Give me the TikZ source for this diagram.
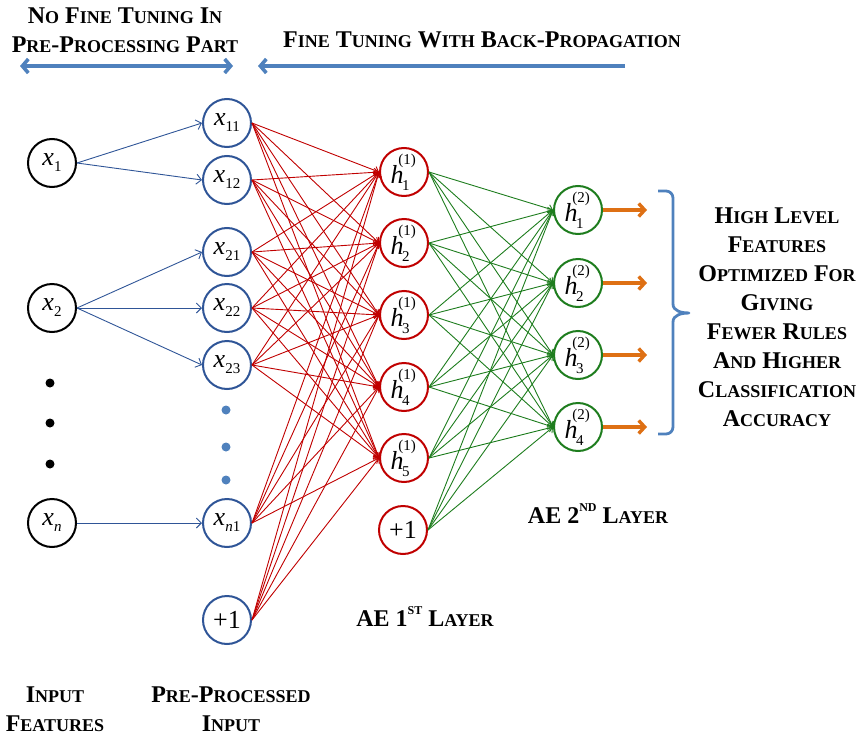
\documentclass[tikz,border=0pt]{standalone}
\usepackage{fontspec}
\setmainfont{Liberation Serif}
\newfontfamily\scf[Scale=0.75]{Liberation Serif}
\usetikzlibrary{arrows.meta}
\definecolor{blueC}{RGB}{47,85,151}
\definecolor{lblue}{RGB}{79,129,189}
\definecolor{redC}{RGB}{192,0,0}
\definecolor{greenC}{RGB}{30,125,30}
\definecolor{orangeC}{RGB}{222,112,20}
\newcommand\SC[2]{#1{\scf\bfseries #2}}
\newcommand\sbs{\fontsize{15}{15}\selectfont}
\newcommand\xs[1]{\textit{x}\raisebox{-0.5ex}{\sbs #1}}
\newcommand\hh[2]{\textit{h}\kern-0.2em\rlap{\raisebox{1.6ex}{\sbs(#1)}}\kern0.15em\raisebox{-0.6ex}{\sbs #2}\kern0.3em}
\tikzset{
  neuron/.style={circle,line width=2pt,minimum size=48pt,inner sep=0pt,font=\fontsize{26}{28}\selectfont},
  inN/.style={neuron,draw=black},
  ppN/.style={neuron,draw=blueC},
  h1N/.style={neuron,draw=redC},
  h2N/.style={neuron,draw=greenC},
  blueE/.style={draw=blueC,line width=0.9pt,-{Straight Barb[length=5pt,width=10pt]}},
  redE/.style={draw=redC,line width=0.9pt,-{Straight Barb[length=4pt,width=8pt]}},
  greenE/.style={draw=greenC,line width=0.9pt,-{Straight Barb[length=4pt,width=8pt]}},
  outA/.style={draw=orangeC,line width=3.4pt,-{Straight Barb[length=6pt,width=13pt]}},
  topA/.style={draw=lblue,line width=3.6pt},
  label/.style={align=center,font=\fontsize{24}{29}\selectfont\bfseries,inner sep=0pt},
  dotB/.style={circle,fill=black,minimum size=9pt,inner sep=0pt},
  dotL/.style={circle,fill=lblue,minimum size=9pt,inner sep=0pt},
}
\begin{document}
\begin{tikzpicture}[x=1pt,y=1pt]
\useasboundingbox (0,0) rectangle (863,-739);
% input nodes
\node[inN] (x1) at (52,-163) {\xs{1}};
\node[inN] (x2) at (52,-308) {\xs{2}};
\node[inN] (xn) at (52,-523) {\textit{x}\raisebox{-0.5ex}{\sbs\textit{n}}};
\node[dotB] (d1) at (50,-383) {};
\node[dotB] (d2) at (50,-423) {};
\node[dotB] (d3) at (50,-464) {};
% pre-processed
\node[ppN] (p1) at (227,-123) {\xs{11}};
\node[ppN] (p2) at (227,-180) {\xs{12}};
\node[ppN] (p3) at (227,-252) {\xs{21}};
\node[ppN] (p4) at (227,-308) {\xs{22}};
\node[ppN] (p5) at (227,-365) {\xs{23}};
\node[ppN] (p6) at (227,-523) {\textit{x}\raisebox{-0.5ex}{\sbs\textit{n}1}};
\node[ppN] (p7) at (227,-620) {+1};
\node[dotL] (e1) at (226,-410) {};
\node[dotL] (e2) at (226,-447) {};
\node[dotL] (e3) at (226,-480) {};
% hidden 1
\node[h1N] (h1) at (404,-172) {\hh{1}{1}};
\node[h1N] (h2) at (404,-243) {\hh{1}{2}};
\node[h1N] (h3) at (404,-315) {\hh{1}{3}};
\node[h1N] (h4) at (404,-387) {\hh{1}{4}};
\node[h1N] (h5) at (404,-458) {\hh{1}{5}};
\node[h1N] (h6) at (403,-530) {+1};
% hidden 2
\node[h2N] (g1) at (578,-210) {\hh{2}{1}};
\node[h2N] (g2) at (578,-283) {\hh{2}{2}};
\node[h2N] (g3) at (578,-355) {\hh{2}{3}};
\node[h2N] (g4) at (578,-427) {\hh{2}{4}};
% blue edges
\draw[blueE] (x1.east) -- (p1.west);
\draw[blueE] (x1.east) -- (p2.west);
\draw[blueE] (x2.east) -- (p3.west);
\draw[blueE] (x2.east) -- (p4.west);
\draw[blueE] (x2.east) -- (p5.west);
\draw[blueE] (xn.east) -- (p6.west);
% red edges
\foreach \a in {p1,p2,p3,p4,p5,p6,p7}
  \foreach \b in {h1,h2,h3,h4,h5}
    \draw[redE] (\a.east) -- (\b.west);
% green edges
\foreach \a in {h1,h2,h3,h4,h5,h6}
  \foreach \b in {g1,g2,g3,g4}
    \draw[greenE] (\a.east) -- (\b.west);
% output arrows
\foreach \i in {1,2,3,4} {
  \coordinate (o\i) at ([xshift=44pt]g\i.east);
  \draw[outA] (g\i.east) -- (o\i);
}
% brace
\draw[draw=lblue,line width=2.8pt,line join=round]
  (658,-191) -- (666,-191) to[out=0,in=90] (673,-198) -- (673,-304)
  to[out=-90,in=180] (689,-313) to[out=180,in=90] (673,-322)
  -- (673,-427) to[out=-90,in=0] (666,-434) -- (658,-434);
% top arrows
\coordinate (ta1) at (20,-66);
\coordinate (ta2) at (233,-66);
\coordinate (tb1) at (625,-66);
\coordinate (tb2) at (258,-66);
\draw[topA,{Straight Barb[length=6pt,width=14pt]}-{Straight Barb[length=6pt,width=14pt]}] (ta1) -- (ta2);
\draw[topA,-{Straight Barb[length=6pt,width=14pt]}] (tb1) -- (tb2);
% labels
\node[label] (t1) at (125,-30) {\SC{N}{O} \SC{F}{INE} \SC{T}{UNING} \SC{I}{N}\\\SC{P}{RE}-\SC{P}{ROCESSING} \SC{P}{ART}};
\node[label] (t2) at (482,-40) {\SC{F}{INE} \SC{T}{UNING} \SC{W}{ITH} \SC{B}{ACK}-\SC{P}{ROPAGATION}};
\node[label] (t3) at (777,-317) {\SC{H}{IGH} \SC{L}{EVEL}\\\SC{F}{EATURES}\\\SC{O}{PTIMIZED} \SC{F}{OR}\\\SC{G}{IVING}\\\SC{F}{EWER} \SC{R}{ULES}\\\SC{A}{ND} \SC{H}{IGHER}\\\SC{C}{LASSIFICATION}\\\SC{A}{CCURACY}};
\node[label] (t4) at (55,-709) {\SC{I}{NPUT}\\\SC{F}{EATURES}};
\node[label] (t5) at (231,-709) {\SC{P}{RE}-\SC{P}{ROCESSED}\\\SC{I}{NPUT}};
\node[label] (t6) at (425,-617) {AE 1\raisebox{0.5em}{\fontsize{12}{12}\selectfont ST} \SC{L}{AYER}};
\node[label] (t7) at (598,-514) {AE 2\raisebox{0.5em}{\fontsize{12}{12}\selectfont ND} \SC{L}{AYER}};
\end{tikzpicture}
\end{document}
